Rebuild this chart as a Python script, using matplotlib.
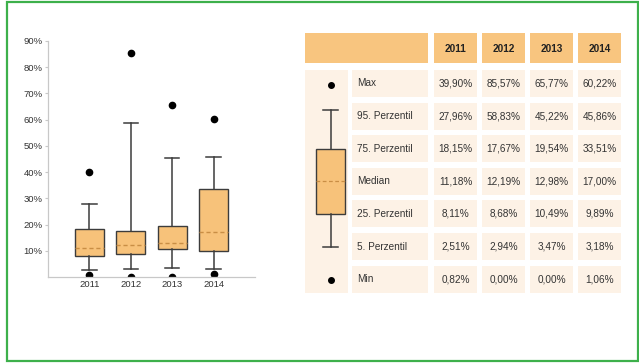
import matplotlib
matplotlib.use("Agg")
import matplotlib.pyplot as plt
from matplotlib.patches import Rectangle
from matplotlib.lines import Line2D

plt.rcParams['font.family'] = ['Liberation Sans', 'DejaVu Sans']

# ---- data (fractions) ----
years = ["2011", "2012", "2013", "2014"]
row_labels = ["Max", "95. Perzentil", "75. Perzentil", "Median",
              "25. Perzentil", "5. Perzentil", "Min"]
p_max = [0.3990, 0.8557, 0.6577, 0.6022]
p95 = [0.2796, 0.5883, 0.4522, 0.4586]
p75 = [0.1815, 0.1767, 0.1954, 0.3351]
p50 = [0.1118, 0.1219, 0.1298, 0.1700]
p25 = [0.0811, 0.0868, 0.1049, 0.0989]
p05 = [0.0251, 0.0294, 0.0347, 0.0318]
p_min = [0.0082, 0.0000, 0.0000, 0.0106]
y_ticks = [0.1, 0.2, 0.3, 0.4, 0.5, 0.6, 0.7, 0.8, 0.9]

# ---- styles ----
W, H = 639, 363
orange = "#F8C57F"
box_fill = "#F7C27A"
cell_bg = "#FDF2E6"
edge = "#3C3C3C"
median_col = "#C98E45"
green = "#3DB04B"
axis_grey = "#C8C8C8"
text_col = "#333333"

fig = plt.figure(figsize=(W / 100, H / 100), dpi=100)

# overlay in pixel coordinates for the table and frame
ov = fig.add_axes([0, 0, 1, 1])
ov.set_xlim(0, W)
ov.set_ylim(H, 0)
ov.axis("off")

# frame
ov.add_patch(Rectangle((6.5, 2), 631, 359, fill=False, edgecolor=green, linewidth=1.6))

# ---- boxplot ----
def px_to_fig(x0, y_top, x1, y_bot):
    return [x0 / W, 1 - y_bot / H, (x1 - x0) / W, (y_bot - y_top) / H]

ax = fig.add_axes(px_to_fig(48, 41, 255, 277))
stats = []
for i in range(len(years)):
    stats.append(dict(med=p50[i], q1=p25[i], q3=p75[i],
                      whislo=p05[i], whishi=p95[i],
                      fliers=[p_min[i], p_max[i]], label=years[i]))
pos = list(range(1, len(years) + 1))
ax.bxp(stats, positions=pos, widths=0.7, patch_artist=True,
       boxprops=dict(facecolor=box_fill, edgecolor=edge, linewidth=1.0),
       whiskerprops=dict(color=edge, linewidth=1.1),
       capprops=dict(color=edge, linewidth=1.1),
       medianprops=dict(color=median_col, linewidth=1.0, linestyle=(0, (3, 2))),
       flierprops=dict(marker="o", markerfacecolor="black", markeredgecolor="black",
                       markersize=4.5))
ax.set_xlim(0, 5)
ax.set_ylim(0, 0.9)
ax.set_yticks(y_ticks)
ax.set_yticklabels([f"{int(round(t * 100))}%" for t in y_ticks])
ax.set_xticks(pos)
ax.set_xticklabels(years)
ax.tick_params(axis="y", length=2.5, width=0.8, color=axis_grey, labelsize=6.8,
               labelcolor=text_col, pad=1.5)
ax.tick_params(axis="x", length=0, labelsize=6.8, labelcolor=text_col, pad=2)
for s in ("top", "right"):
    ax.spines[s].set_visible(False)
for s in ("left", "bottom"):
    ax.spines[s].set_color(axis_grey)
    ax.spines[s].set_linewidth(0.9)
ax.patch.set_alpha(0)

# ---- table ----
col_x = [434 + 48 * i for i in range(len(years))]
col_w = 43
row_top0 = 70
row_pitch = 32.6
row_h = 27
fs = 7.2

# header
ov.add_patch(Rectangle((305, 33), 428 - 305, 30, facecolor=orange, edgecolor="none"))
for x, y in zip(col_x, years):
    ov.add_patch(Rectangle((x, 33), col_w, 30, facecolor=orange, edgecolor="none"))
    ov.text(x + col_w / 2, 49, y, ha="center", va="center", fontsize=fs,
            fontweight="bold", color="#222222")

# icon column background
ov.add_patch(Rectangle((305, row_top0), 43, row_pitch * 6 + row_h, facecolor=cell_bg,
                       edgecolor="none"))

table_rows = [p_max, p95, p75, p50, p25, p05, p_min]
centers = []
for r, (lab, vals) in enumerate(zip(row_labels, table_rows)):
    top = row_top0 + r * row_pitch
    cy = top + row_h / 2
    centers.append(cy)
    ov.add_patch(Rectangle((352, top), 76, row_h, facecolor=cell_bg, edgecolor="none"))
    ov.text(357, cy, lab, ha="left", va="center", fontsize=fs, color=text_col)
    for x, v in zip(col_x, vals):
        ov.add_patch(Rectangle((x, top), col_w, row_h, facecolor=cell_bg, edgecolor="none"))
        txt = f"{v * 100:.2f}%".replace(".", ",")
        ov.text(x + col_w / 2, cy, txt, ha="center", va="center", fontsize=fs,
                color=text_col)

# legend icon: box-and-whisker key
ix = 330.5
ov.plot([ix], [centers[0] + 1], "o", color="black", markersize=4)
ov.plot([ix], [centers[6] + 1], "o", color="black", markersize=4)
cap_hi = centers[1] - 6
ov.add_line(Line2D([ix, ix], [cap_hi, centers[2]], color=edge, linewidth=1.1))
ov.add_line(Line2D([323, 338], [cap_hi, cap_hi], color=edge, linewidth=1.1))
ov.add_line(Line2D([ix, ix], [centers[4], centers[5]], color=edge, linewidth=1.1))
ov.add_line(Line2D([323, 338], [centers[5], centers[5]], color=edge, linewidth=1.1))
ov.add_patch(Rectangle((316, centers[2]), 29, centers[4] - centers[2],
                       facecolor=box_fill, edgecolor=edge, linewidth=1.0))
ov.add_line(Line2D([316, 345], [centers[3], centers[3]], color=median_col,
                   linewidth=0.9, linestyle=(0, (3, 2))))

fig.savefig("out.png", dpi=100)
